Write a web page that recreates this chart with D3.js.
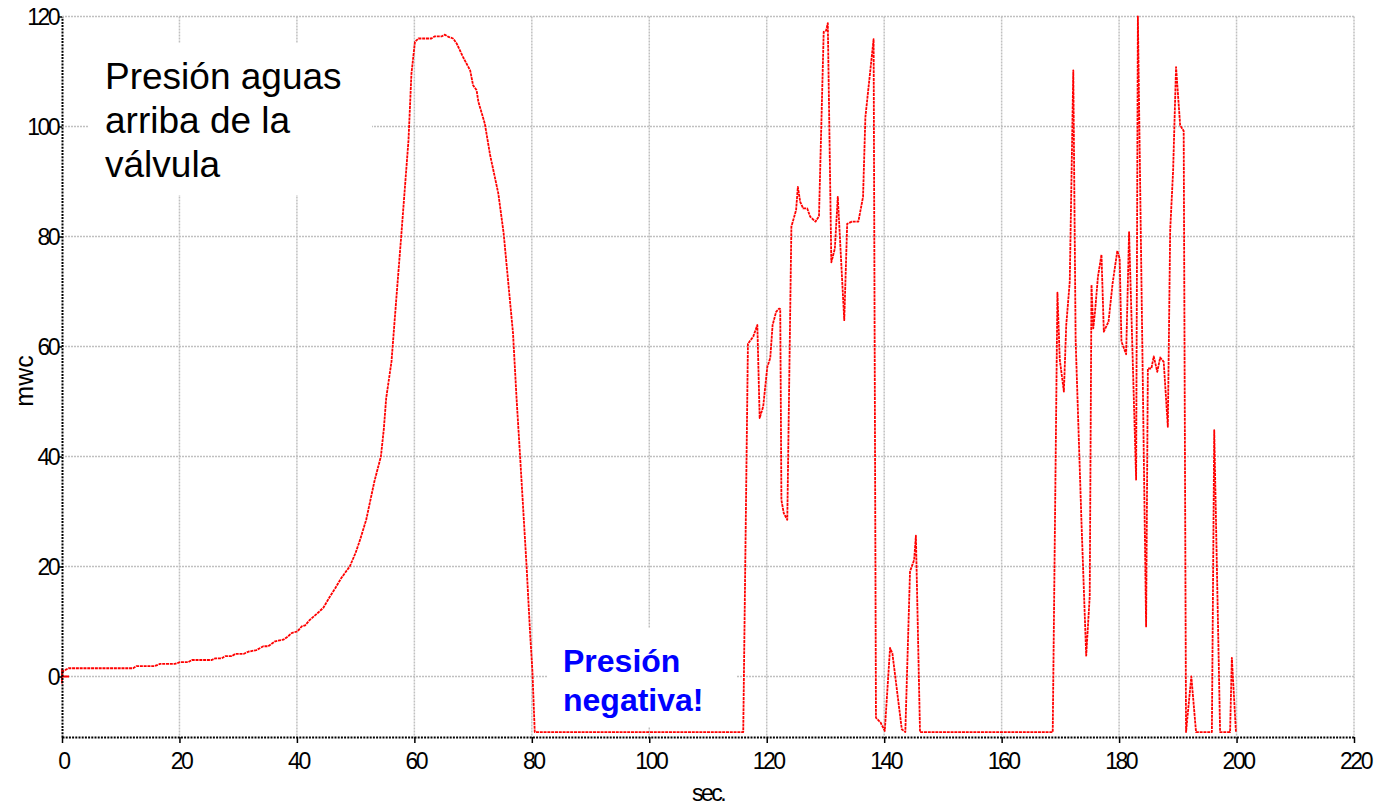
<!DOCTYPE html>
<html lang="es">
<head>
<meta charset="UTF-8">
<title>Presión aguas arriba de la válvula</title>
<style>
  body { margin: 0; background: #fff; }
  svg text { font-family: Arial, "Liberation Sans", sans-serif; }
</style>
</head>
<body>
<script src="https://cdn.jsdelivr.net/npm/d3@7"></script>
<script>
// tiempo (s) y presión (mwc)
const timeSec = [0, 0.2, 1.1, 12.1, 12.7, 15.8, 16.7, 19.2, 20.1, 21.5, 22.1, 25.5, 26.1, 27.2, 27.8, 28.9,
  29.5, 30.9, 31.7, 33.1, 34.3, 35.1, 36.3, 37.7, 38.5, 39.1, 40.1, 40.8, 41.4, 42.2, 43.5, 44.5,
  45.6, 46.5, 47.5, 48.3, 49, 50, 50.8, 51.8, 52.5, 53.2, 54.3, 54.8, 55.2, 56.1, 57.0, 57.8,
  59.0, 59.5, 60.1, 60.7, 62.9, 63.5, 64.7, 65.2, 65.8, 66.6, 67.2, 68.3, 69.5, 70.0, 70.6, 70.9,
  72.0, 72.9, 74.3, 75.2, 76.0, 76.8, 77.4, 78.0, 79.1, 79.7, 80.1, 80.5, 116.0, 116.8, 117.7, 118.4,
  118.8, 119.4, 120.1, 120.6, 121.0, 121.6, 122.1, 122.3, 122.5, 122.9, 123.5, 124.2, 125.0, 125.3, 125.7, 126.2,
  126.9, 127.4, 128.3, 128.9, 129.7, 130.1, 130.4, 131.0, 131.6, 132.1, 133.2, 133.7, 134.5, 135.6, 136.4, 136.8,
  138.2, 138.6, 139.4, 140.1, 141.0, 141.4, 143.0, 143.6, 144.4, 145.1, 145.4, 146.1, 168.7, 169.5, 169.9, 170.6,
  171.0, 171.6, 172.2, 172.6, 173.6, 174.4, 175.0, 175.3, 175.6, 175.9, 176.4, 177.0, 177.4, 178.2, 178.9, 179.7,
  180.1, 180.4, 181.2, 181.7, 182.9, 183.2, 184.6, 184.9, 185.5, 185.9, 186.5, 187.0, 187.6, 188.3, 188.7, 189.2,
  189.7, 190.4, 191.0, 191.4, 192.3, 193.1, 195.8, 196.2, 197.2, 198.9, 199.2, 199.9];
const pressureMwc = [0, 1.0, 1.5, 1.5, 1.9, 1.9, 2.3, 2.3, 2.6, 2.6, 3.0, 3.0, 3.3, 3.3, 3.7, 3.7,
  4.1, 4.1, 4.5, 4.8, 5.5, 5.5, 6.4, 6.7, 7.3, 7.9, 8.2, 9.1, 9.3, 10.3, 11.5, 12.5,
  14.5, 16, 17.8, 19, 20, 22.5, 25, 28.5, 32, 35.5, 40, 45, 50.6, 57.2, 69.7, 80.6,
  97.5, 109.6, 115.4, 116, 116, 116.4, 116.4, 116.7, 116.3, 116, 115.1, 112.6, 110.2, 107.5, 106.6, 104.5,
  100.5, 94.8, 87.8, 80.6, 71.5, 62.4, 50.6, 40.1, 20.2, 8, 1, -10.1, -10.1, 60.5, 61.8, 63.9,
  47.0, 49.1, 56.3, 57.9, 63.9, 66.3, 66.9, 66.8, 32.1, 29.7, 28.5, 81.8, 84.8, 89.0, 86.3, 85.1,
  85.1, 83.6, 82.7, 83.7, 117.2, 117.4, 118.8, 75.3, 77.8, 87.2, 64.8, 82.3, 82.7, 82.7, 87.2, 101.7,
  115.9, -7.5, -8.4, -9.9, 5.2, 4.2, -9.6, -10.1, 19.1, 21.2, 25.6, -10.1, -10.1, 69.8, 57.6, 51.8,
  63.9, 71.8, 110.2, 61.2, 27.9, 3.8, 14.6, 71.2, 63.3, 66.3, 72.7, 76.7, 62.7, 64.5, 71.5, 77.4,
  76.0, 60.9, 58.6, 80.8, 35.8, 120, 9.1, 56.0, 56.0, 58.2, 55.4, 58.0, 57.2, 45.4, 81.1, 92.0,
  110.8, 100.2, 99.2, -10.1, 0, -10.1, -10.1, 44.8, -10.1, -10.1, 3.4, -10.1];

const xTicks = [0, 20, 40, 60, 80, 100, 120, 140, 160, 180, 200, 220];
const yTicks = [0, 20, 40, 60, 80, 100, 120];
const xLabel = 'sec.';
const yLabel = 'mwc';
const titleLines = ['Presión aguas', 'arriba de la', 'válvula'];
const noteLines = ['Presión', 'negativa!'];

const W = 1377, H = 805;
const plot = { left: 62, right: 1354, top: 16.5, bottom: 737 };

const svg = d3.select('body').append('svg')
  .attr('width', W)
  .attr('height', H);

const x = d3.scaleLinear().domain([0, 220]).range([plot.left, plot.right]);
const y = d3.scaleLinear().domain([-11, 120]).range([plot.bottom, plot.top]);

// rejilla
svg.append('g')
  .selectAll('line')
  .data(xTicks.filter(d => d > 0))
  .enter().append('line')
  .attr('x1', d => x(d)).attr('x2', d => x(d))
  .attr('y1', plot.top).attr('y2', plot.bottom)
  .attr('stroke', '#c0c0c0').attr('stroke-width', 1.5).attr('stroke-dasharray', '2,1');
svg.append('g')
  .selectAll('line')
  .data(yTicks)
  .enter().append('line')
  .attr('x1', plot.left).attr('x2', plot.right)
  .attr('y1', d => y(d)).attr('y2', d => y(d))
  .attr('stroke', '#c0c0c0').attr('stroke-width', 1.5).attr('stroke-dasharray', '2,1');

// fondos blancos de los textos
svg.append('rect').attr('x', 88).attr('y', 43).attr('width', 284).attr('height', 152).attr('fill', '#fff');
svg.append('rect').attr('x', 547).attr('y', 628).attr('width', 190).attr('height', 99).attr('fill', '#fff');

// serie
const pts = timeSec.map((t, i) => [t, pressureMwc[i]]);
const line = d3.line().x(d => x(d[0])).y(d => y(d[1]));
svg.append('path')
  .datum(pts)
  .attr('d', line)
  .attr('fill', 'none')
  .attr('stroke', '#ff0000')
  .attr('stroke-width', 1.8)
  .attr('stroke-dasharray', '3,0.8')
  .attr('stroke-linejoin', 'round');

// marcador en el origen
svg.append('path')
  .attr('d', `M${x(0)},${y(0) - 8}V${y(0) + 7}M${x(0)},${y(0)}H${x(0) + 7}`)
  .attr('stroke', '#ff0000').attr('stroke-width', 1.8);

// ejes
const xAxis = svg.append('g')
  .attr('transform', `translate(0,${plot.bottom})`)
  .call(d3.axisBottom(x).tickValues(xTicks).tickSize(6).tickSizeOuter(0).tickPadding(10));
const yAxis = svg.append('g')
  .attr('transform', `translate(${plot.left},0)`)
  .call(d3.axisLeft(y).tickValues(yTicks).tickSize(3).tickSizeOuter(0).tickPadding(3));

[xAxis, yAxis].forEach(g => {
  g.select('.domain').attr('stroke', '#000').attr('stroke-width', 2).attr('stroke-dasharray', '2,1.2');
  g.selectAll('.tick line').attr('stroke', '#000').attr('stroke-width', 1.5);
  g.selectAll('.tick text')
    .attr('fill', '#000')
    .style('font-family', 'Arial, "Liberation Sans", sans-serif')
    .style('font-size', '23px')
    .style('letter-spacing', '-2.5px');
});
xAxis.selectAll('.tick text').attr('dy', '0.71em').attr('dx', '1px');
yAxis.selectAll('.tick text').attr('dy', '0.35em').attr('x', -4);

// títulos de ejes
svg.append('text')
  .attr('x', 708).attr('y', 801)
  .attr('text-anchor', 'middle')
  .style('font-size', '23px').style('letter-spacing', '-2.5px')
  .text(xLabel);
svg.append('text')
  .attr('transform', 'translate(33,381) rotate(-90)')
  .attr('text-anchor', 'middle')
  .style('font-size', '25px')
  .text(yLabel);

// anotaciones
svg.append('g').selectAll('text')
  .data(titleLines)
  .enter().append('text')
  .attr('x', 105)
  .attr('y', (d, i) => 89 + i * 44)
  .style('font-size', '37px')
  .attr('fill', '#000')
  .text(d => d);

svg.append('g').selectAll('text')
  .data(noteLines)
  .enter().append('text')
  .attr('x', 563)
  .attr('y', (d, i) => 672 + i * 39)
  .style('font-size', '32px')
  .style('font-weight', 'bold')
  .attr('fill', '#0000ff')
  .text(d => d);
</script>
</body>
</html>
